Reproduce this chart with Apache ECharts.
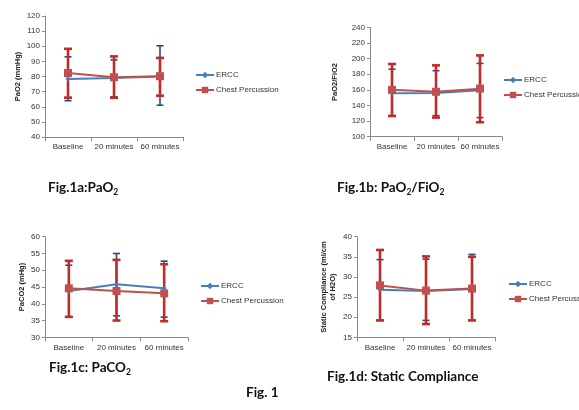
<!DOCTYPE html>
<html><head><meta charset="utf-8">
<script src="https://cdn.jsdelivr.net/npm/echarts@6/dist/echarts.min.js"></script>
<style>html,body{margin:0;padding:0;background:#fff}#c{width:579px;height:410px}</style>
</head><body><div id="c"></div>
<script>
const categories = ['Baseline', '20 minutes', '60 minutes'];
const seriesNames = ['ERCC', 'Chest Percussion'];

// Fig 1a PaO2
const pao2_ercc = [78.3, 79, 80];
const pao2_ercc_lo = [64, 66.5, 61];
const pao2_ercc_hi = [93, 91, 100.3];
const pao2_cp = [82.3, 79.5, 80.2];
const pao2_cp_lo = [66, 66, 67.3];
const pao2_cp_hi = [98.3, 93.3, 92.3];

// Fig 1b PaO2/FiO2
const pf_ercc = [155.5, 155.8, 159.5];
const pf_ercc_lo = [127, 127, 124.5];
const pf_ercc_hi = [186.5, 184.5, 193.8];
const pf_cp = [160, 157.5, 161.5];
const pf_cp_lo = [126.5, 124.5, 118.5];
const pf_cp_hi = [193, 191.3, 204];

// Fig 1c PaCO2
const paco2_ercc = [43.8, 45.8, 44.6];
const paco2_ercc_lo = [36, 36.4, 36];
const paco2_ercc_hi = [51.5, 55, 52.7];
const paco2_cp = [44.6, 43.8, 43.1];
const paco2_cp_lo = [36.1, 35, 34.8];
const paco2_cp_hi = [52.8, 53.1, 51.8];

// Fig 1d Static Compliance
const sc_ercc = [26.8, 26.5, 27.0];
const sc_ercc_lo = [19.2, 19.2, 19.2];
const sc_ercc_hi = [34.3, 34.4, 35.6];
const sc_cp = [27.9, 26.6, 27.1];
const sc_cp_lo = [19.2, 18.3, 19.2];
const sc_cp_hi = [36.7, 35.1, 35.0];

const yTicks = [
  {min: 40, max: 120, interval: 10},
  {min: 100, max: 240, interval: 20},
  {min: 30, max: 60, interval: 5},
  {min: 15, max: 40, interval: 5}
];

const ERCC_LINE = '#4a7ebb', CP_LINE = '#c0504d';
const ERCC_BAR = '#2c4a7a', CP_BAR = '#c42a2a';

const grids = [
  {left: 45, top: 16, width: 138, height: 121},
  {left: 370, top: 27.3, width: 132, height: 109.4},
  {left: 45, top: 236.7, width: 143, height: 100.6},
  {left: 357, top: 236.7, width: 138, height: 100.6}
];
const yNames = ['PaO2 (mmHg)', 'PaO2/FiO2', 'PaCO2 (mHg)', 'Static Compliance (ml/cm\nof H2O)'];
const yGaps = [19, 31, 19, 20];
const legends = [
  {left: 190, top: 66},
  {left: 498, top: 71},
  {left: 195, top: 277},
  {left: 503, top: 275}
];
const data = [
  [pao2_ercc, pao2_ercc_lo, pao2_ercc_hi, pao2_cp, pao2_cp_lo, pao2_cp_hi],
  [pf_ercc, pf_ercc_lo, pf_ercc_hi, pf_cp, pf_cp_lo, pf_cp_hi],
  [paco2_ercc, paco2_ercc_lo, paco2_ercc_hi, paco2_cp, paco2_cp_lo, paco2_cp_hi],
  [sc_ercc, sc_ercc_lo, sc_ercc_hi, sc_cp, sc_cp_lo, sc_cp_hi]
];

function errRender(color, lw, capW) {
  return function (params, api) {
    const x = api.value(0);
    const lo = api.coord([x, api.value(1)]);
    const hi = api.coord([x, api.value(2)]);
    const st = {stroke: color, lineWidth: lw};
    return {type: 'group', children: [
      {type: 'line', shape: {x1: lo[0], y1: lo[1], x2: hi[0], y2: hi[1]}, style: st},
      {type: 'line', shape: {x1: lo[0] - capW, y1: lo[1], x2: lo[0] + capW, y2: lo[1]}, style: st},
      {type: 'line', shape: {x1: hi[0] - capW, y1: hi[1], x2: hi[0] + capW, y2: hi[1]}, style: st}
    ]};
  };
}

const xAxis = [], yAxis = [], series = [], legend = [];
grids.forEach((g, i) => {
  xAxis.push({
    type: 'category', gridIndex: i, data: categories, boundaryGap: true,
    axisLine: {lineStyle: {color: '#8a8a8a', width: 1}},
    axisTick: {show: true, alignWithLabel: false, length: 4, lineStyle: {color: '#8a8a8a'}},
    axisLabel: {fontSize: 8, color: '#333', margin: 6, interval: 0, fontFamily: 'Liberation Sans'}
  });
  yAxis.push({
    type: 'value', gridIndex: i, min: yTicks[i].min, max: yTicks[i].max, interval: yTicks[i].interval,
    axisLine: {show: true, lineStyle: {color: '#8a8a8a', width: 1}},
    axisTick: {show: true, length: 3, lineStyle: {color: '#8a8a8a'}},
    splitLine: {show: false},
    axisLabel: {fontSize: 8, color: '#333', margin: 5, fontFamily: 'Liberation Sans'},
    name: yNames[i], nameLocation: 'middle', nameRotate: 90, nameGap: yGaps[i],
    nameTextStyle: {fontSize: 7.5, fontWeight: 'bold', color: '#222', fontFamily: 'Liberation Sans', lineHeight: 9}
  });
  const d = data[i];
  const mk = (vals, lo, hi) => categories.map((c, k) => [k, lo[k], hi[k]]);
  series.push({type: 'custom', xAxisIndex: i, yAxisIndex: i, renderItem: errRender(ERCC_BAR, 1.6, 3.5), data: mk(d[0], d[1], d[2]), z: 2, silent: true});
  series.push({type: 'custom', xAxisIndex: i, yAxisIndex: i, renderItem: errRender(CP_BAR, 2.6, 4), data: mk(d[3], d[4], d[5]), z: 3, silent: true});
  series.push({name: 'ERCC', type: 'line', xAxisIndex: i, yAxisIndex: i, data: d[0], symbol: 'diamond', symbolSize: 5,
    lineStyle: {color: ERCC_LINE, width: 2}, itemStyle: {color: ERCC_LINE}, z: 4, animation: false});
  series.push({name: 'Chest Percussion', type: 'line', xAxisIndex: i, yAxisIndex: i, data: d[3], symbol: 'rect', symbolSize: 8,
    lineStyle: {color: CP_LINE, width: 2}, itemStyle: {color: CP_LINE}, z: 5, animation: false});
  legend.push({
    left: legends[i].left, top: legends[i].top, orient: 'vertical', itemGap: 7,
    itemWidth: 18, itemHeight: 8, data: seriesNames,
    textStyle: {fontSize: 8, color: '#333', fontFamily: 'Liberation Sans', padding: [0, 0, 0, -3]}
  });
});

const richStyle = {
  a: {fontSize: 13.5, fontWeight: 'bold', color: '#111', fontFamily: 'Lato'},
  s: {fontSize: 8.5, fontWeight: 'bold', color: '#111', fontFamily: 'Lato', padding: [9, 0, 0, 0]}
};
function caption(x, y, text) {
  return {type: 'text', left: x, top: y, style: {text: text, rich: richStyle, fill: '#111'}};
}

const option = {
  animation: false,
  backgroundColor: '#fff',
  grid: grids,
  xAxis, yAxis, series, legend,
  graphic: [
    caption(48, 181, '{a|Fig.1a:PaO}{s|2}'),
    caption(337, 181, '{a|Fig.1b: PaO}{s|2}{a|/FiO}{s|2}'),
    caption(49, 361, '{a|Fig.1c: PaCO}{s|2}'),
    caption(327, 370, '{a|Fig.1d: Static Compliance}'),
    caption(246, 386, '{a|Fig. 1}')
  ]
};
const chart = echarts.init(document.getElementById('c'), null, {renderer: 'canvas'});
chart.setOption(option);
</script></body></html>
